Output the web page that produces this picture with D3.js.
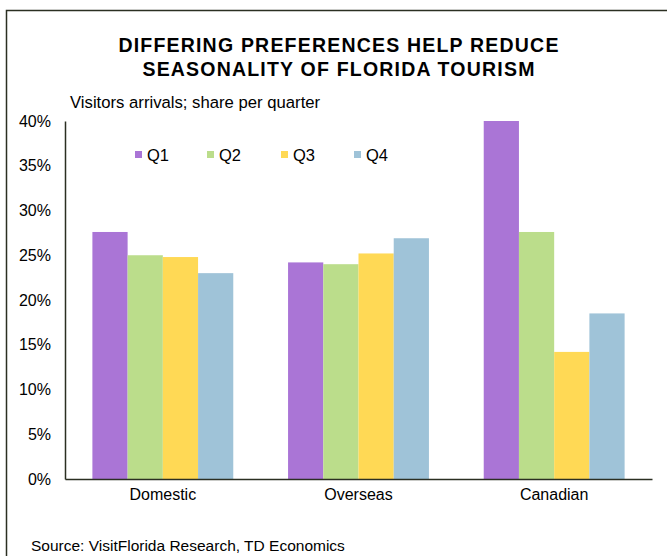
<!DOCTYPE html>
<html><head><meta charset="utf-8">
<script src="https://cdn.jsdelivr.net/npm/d3@7"></script>
<style>body{margin:0;background:#fff}svg{display:block;font-family:"Liberation Sans",Arial,sans-serif}</style>
</head><body><svg id="c" width="667" height="556"></svg>
<script>
const categories = ["Domestic", "Overseas", "Canadian"];
const quarters = ["Q1", "Q2", "Q3", "Q4"];
const q1 = [27.6, 24.2, 40.0];
const q2 = [25.0, 24.0, 27.6];
const q3 = [24.8, 25.2, 14.2];
const q4 = [23.0, 26.9, 18.5];
const yTicks = [0, 5, 10, 15, 20, 25, 30, 35, 40];
const colors = ["#AA75D6", "#BBDD8B", "#FFD955", "#9FC3D8"];
const series = [q1, q2, q3, q4];

const svg = d3.select("#c");
// frame
svg.append("rect").attr("x", 6.5).attr("y", 10.5).attr("width", 700).attr("height", 600)
  .attr("fill", "none").attr("stroke", "#2b2f22").attr("stroke-width", 1.5);

svg.append("text").attr("x", 339).attr("y", 52).attr("text-anchor", "middle")
  .attr("font-size", 19.5).attr("letter-spacing", 1.2).attr("font-weight", "bold").text("DIFFERING PREFERENCES HELP REDUCE");
svg.append("text").attr("x", 339).attr("y", 76).attr("text-anchor", "middle")
  .attr("font-size", 19.5).attr("letter-spacing", 1.2).attr("font-weight", "bold").text("SEASONALITY OF FLORIDA TOURISM");
svg.append("text").attr("x", 70).attr("y", 108).attr("font-size", 16.7).text("Visitors arrivals; share per quarter");

const x0 = d3.scaleBand().domain(categories).range([65, 652]).paddingInner(0.28).paddingOuter(0.14);
const x1 = d3.scaleBand().domain(quarters).range([0, x0.bandwidth()]);
const y = d3.scaleLinear().domain([0, 40]).range([479, 121]);

const g = svg.append("g");
quarters.forEach((q, qi) => {
  g.selectAll(null).data(categories).enter().append("rect")
    .attr("x", (c) => x0(c) + x1(q))
    .attr("width", x1.bandwidth())
    .attr("y", (c, i) => y(series[qi][i]))
    .attr("height", (c, i) => y(0) - y(series[qi][i]))
    .attr("fill", colors[qi]);
});

const ya = svg.append("g").attr("transform", "translate(65,0)")
  .call(d3.axisLeft(y).tickValues(yTicks).tickSize(0).tickPadding(14).tickFormat(d => d + "%"));
ya.select(".domain").attr("stroke", "#2b2f22").attr("stroke-width", 1.5);
ya.selectAll("text").attr("font-size", 16).attr("fill", "#000").attr("font-family", "Liberation Sans, Arial, sans-serif");

const xa = svg.append("g").attr("transform", "translate(0,479)")
  .call(d3.axisBottom(x0).tickSize(0).tickPadding(10));
xa.select(".domain").attr("stroke", "#2b2f22").attr("stroke-width", 1.5);
xa.selectAll("text").attr("font-size", 16).attr("fill", "#000").attr("font-family", "Liberation Sans, Arial, sans-serif");

const legX = [135, 207, 281, 354];
quarters.forEach((q, i) => {
  svg.append("rect").attr("x", legX[i]).attr("y", 151).attr("width", 7).attr("height", 7).attr("fill", colors[i]);
  svg.append("text").attr("x", legX[i] + 12).attr("y", 161).attr("font-size", 16.5).text(q);
});

svg.append("text").attr("x", 31).attr("y", 551).attr("font-size", 15.5).text("Source: VisitFlorida Research, TD Economics");
</script></body></html>
